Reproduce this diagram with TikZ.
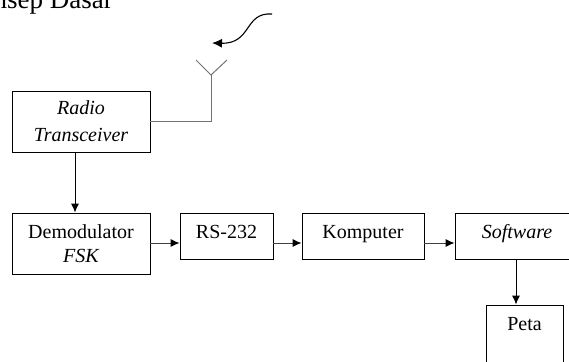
\documentclass[tikz,border=0pt]{standalone}
\usepackage{fontspec}
\setmainfont{Liberation Serif}
\usetikzlibrary{arrows.meta}

\tikzset{>={Latex[length=9pt,width=8pt,color=black]}}

\begin{document}
\begin{tikzpicture}[x=1pt, y=-1pt, font=\fontsize{20}{24}\selectfont]
	\tikzstyle{box} = [draw=black, line width=0.9pt, inner sep=0pt, align=center]
	\tikzstyle{box_line} = [box, text height=25pt, text depth=21.5pt, anchor=base]
	\tikzstyle{edge} = [->, line width=0.9pt, draw=black!75]
	\tikzstyle{aerial} = [line width=1pt, draw=black!55]

	\useasboundingbox (0,0) rectangle (569,361);

%----------judul (terpotong)---------------------------------
	\node[inner sep=0pt, anchor=base east, font=\fontsize{27}{30}\selectfont] (title) at (113,9) {Konsep Dasar};

%----------antena dan gelombang------------------------------
	\coordinate (ant) at (211,75);
	\coordinate (ant_l) at (196,60);
	\coordinate (ant_r) at (227,60);
	\coordinate (wave_s) at (272,14);
	\coordinate (wave_e) at (212,43);

	\draw[-{Latex[length=10pt,width=9pt]}, line width=1.1pt] (wave_s) .. controls (244,12) and (252,44) .. (wave_e);

%----------blok------------------------------------------------
	\node[box, minimum width=138pt, minimum height=61pt] (radio) at (81,121.5) {\itshape Radio\\[3pt]\itshape Transceiver};
	\node[box, minimum width=138pt, minimum height=61pt] (demod) at (81,243.5) {Demodulator\\\itshape FSK};

	\coordinate (lvl) at (0,243);

	\node[box_line, minimum width=93pt] (rs) at (226.5,238) {RS-232};
	\node[box_line, minimum width=122pt] (komp) at (363,238) {Komputer};
	\node[box_line, minimum width=124pt] (soft) at (517,238) {\itshape Software};
	\node[box_line, minimum width=77pt, text depth=60pt] (peta) at (524.5,330) {Peta};

%----------sambungan------------------------------------------
	\draw[aerial] (ant_l) -- (ant) -- (ant_r);
	\draw[aerial] (ant) |- (radio.east);

	\draw[edge, draw=black] ([xshift=-6pt]radio.south) -- ([xshift=-6pt]radio.south |- demod.north);
	\draw[edge] (demod.east |- lvl) -- (rs.west |- lvl);
	\draw[edge] (rs.east |- lvl) -- (komp.west |- lvl);
	\draw[edge] (komp.east |- lvl) -- (soft.west |- lvl);
	\draw[edge, draw=black] ([xshift=-1pt]soft.south) -- ([xshift=-1pt]soft.south |- peta.north);
\end{tikzpicture}
\end{document}
